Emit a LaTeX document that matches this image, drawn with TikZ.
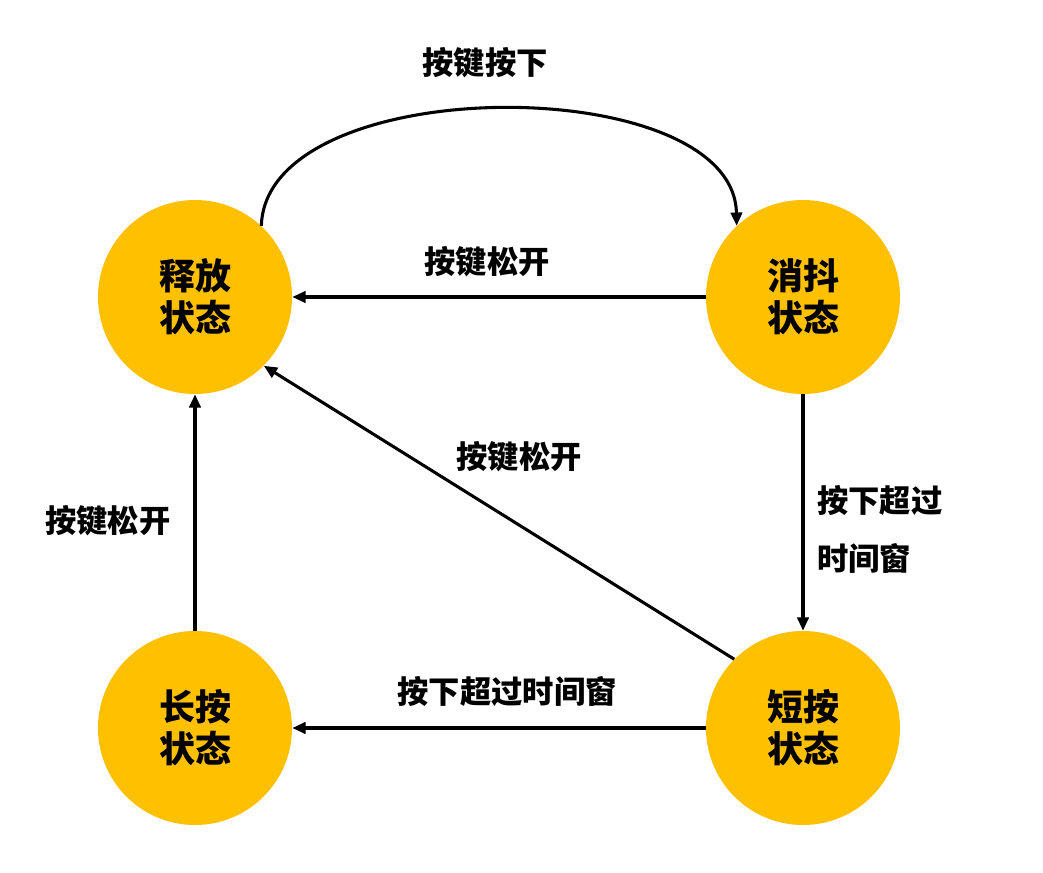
\documentclass[tikz,border=0pt]{standalone}
\usepackage{fontspec}
\newfontfamily\cjk{Noto Sans CJK SC}
\usetikzlibrary{arrows.meta}
\definecolor{gold}{HTML}{FFC000}
\begin{document}
\begin{tikzpicture}[x=0.75pt,y=-0.75pt,
  state/.style={circle,fill=gold,minimum size=145.5pt,inner sep=0pt,align=center,
    font=\cjk\bfseries\fontsize{27}{31.5}\selectfont},
  lbl/.style={font=\cjk\bfseries\fontsize{23.5}{43.5}\selectfont,inner sep=0pt},
  arr/.style={line width=2.3pt,-{Triangle[length=10pt,width=8.5pt]}}]
\useasboundingbox (0,0) rectangle (1043,873);
\node[state] (rel) at (195,297) {释放\\状态};
\node[state] (deb) at (803,297) {消抖\\状态};
\node[state] (lng) at (195,728) {长按\\状态};
\node[state] (sht) at (803,728) {短按\\状态};
\draw[arr] (rel.47) .. controls (266,70) and (734,70) .. (deb.133);
\draw[arr] (deb) -- (rel);
\draw[arr] (deb) -- (sht);
\draw[arr] (sht.135) -- (rel.-45);
\draw[arr] (sht) -- (lng);
\draw[arr] (lng) -- (rel);
\node[lbl] (l1) at (485,63) {按键按下};
\node[lbl] (l2) at (487,262) {按键松开};
\node[lbl] (l3) at (519,457) {按键松开};
\node[lbl] (l4) at (108,521) {按键松开};
\node[lbl,align=left,anchor=west] (l5) at (817,529) {按下超过\\时间窗};
\node[lbl] (l6) at (507,692) {按下超过时间窗};
\end{tikzpicture}
\end{document}
